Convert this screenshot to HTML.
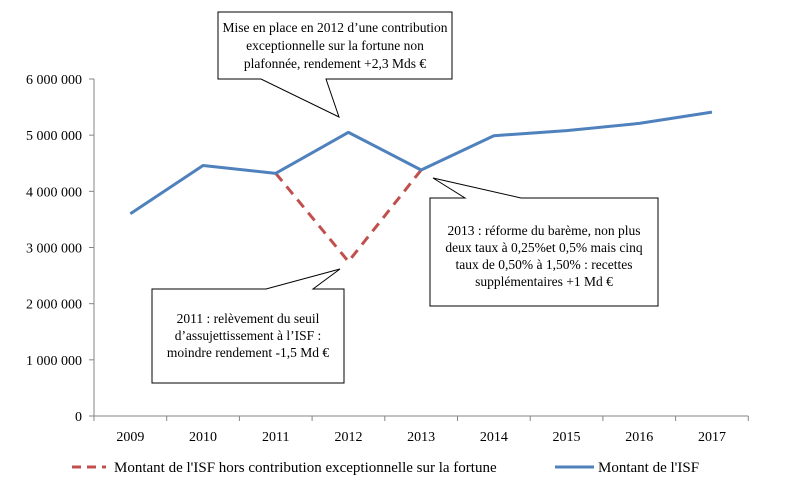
<!DOCTYPE html>
<html><head><meta charset="utf-8"><style>
body{margin:0;background:#fff}
svg text{font-family:"Liberation Serif",serif;font-size:13px;fill:#000}
svg .lg{font-size:15px}
svg .cl{font-size:13.5px}
svg .ax{font-size:14px}
</style></head><body>
<svg width="785" height="488" viewBox="0 0 785 488">
<g id="axes"></g>
<g id="series"></g>
<g class="cl">
<path d="M218,12 H452 V79 H326 L339,117 L261,79 H218 Z" fill="#fff" stroke="#000" stroke-width="1"/>
<text class="cl" x="335" y="32" text-anchor="middle">Mise en place en 2012 d’une contribution</text>
<text class="cl" x="335" y="50" text-anchor="middle">exceptionnelle sur la fortune  non</text>
<text class="cl" x="335" y="68" text-anchor="middle">plafonnée, rendement  +2,3 Mds €</text>
</g>
<g>
<path d="M152,289 H266 L340,269 L313,289 H344 V383 H152 Z" fill="#fff" stroke="#000" stroke-width="1"/>
<text class="cl" x="248" y="323" text-anchor="middle">2011 : relèvement  du seuil</text>
<text class="cl" x="248" y="340" text-anchor="middle">d’assujettissement à l’ISF :</text>
<text class="cl" x="248" y="357" text-anchor="middle">moindre rendement -1,5 Md €</text>
</g>
<g>
<path d="M430,198 H465 L433,178 L521,198 H658 V306 H430 Z" fill="#fff" stroke="#000" stroke-width="1"/>
<text class="cl" x="544" y="235" text-anchor="middle">2013 : réforme  du barème,  non plus</text>
<text class="cl" x="544" y="252" text-anchor="middle">deux taux à 0,25%et 0,5%  mais cinq</text>
<text class="cl" x="544" y="269" text-anchor="middle">taux de 0,50% à 1,50% : recettes</text>
<text class="cl" x="544" y="286" text-anchor="middle">supplémentaires +1 Md €</text>
</g>
<g>
<line x1="72" y1="467" x2="106" y2="467" stroke="#c0504d" stroke-width="3" stroke-dasharray="9,6"/>
<text class="lg" x="114" y="472">Montant de l'ISF hors contribution exceptionnelle sur la fortune</text>
<line x1="555" y1="467" x2="594" y2="467" stroke="#4f81bd" stroke-width="3"/>
<text class="lg" x="598" y="472">Montant de l'ISF</text>
</g>
</svg>
<script>
const categories=["2009","2010","2011","2012","2013","2014","2015","2016","2017"];
const isfValues=[3600000,4460000,4320000,5050000,4380000,4990000,5080000,5210000,5410000];
const dashedCategories=["2011","2012","2013"];
const dashedValues=[4320000,2750000,4380000];
const yTicks=[0,1000000,2000000,3000000,4000000,5000000,6000000];
const yTickLabels=["0","1 000 000","2 000 000","3 000 000","4 000 000","5 000 000","6 000 000"];
const NS="http://www.w3.org/2000/svg";
const X0=94,BW=72.7,Y0=416,YT=79,YMAX=6000000;
const xs=c=>X0+BW*(categories.indexOf(c)+0.5);
const ys=v=>Y0-(Y0-YT)*v/YMAX;
function mk(t,a,p){const e=document.createElementNS(NS,t);for(const k in a)e.setAttribute(k,a[k]);p.appendChild(e);return e;}
const ax=document.getElementById('axes'),se=document.getElementById('series');
let l=mk('line',{x1:X0,y1:YT,x2:X0,y2:Y0,stroke:'#868686'},ax);


l=mk('line',{x1:X0,y1:Y0,x2:X0+BW*categories.length,y2:Y0,stroke:'#868686'},ax);


yTicks.forEach((v,i)=>{const y=ys(v);
 mk('line',{x1:X0-5,y1:y,x2:X0,y2:y,stroke:'#868686'},ax);
 const t=mk('text',{x:X0-12,y:y+5,'text-anchor':'end','class':'ax'},ax);t.textContent=yTickLabels[i];
 
 
});
for(let i=0;i<=categories.length;i++){const x=X0+BW*i;mk('line',{x1:x,y1:Y0,x2:x,y2:Y0+5,stroke:'#868686'},ax);}
categories.forEach(c=>{const t=mk('text',{x:xs(c),y:441,'text-anchor':'middle','class':'ax'},ax);t.textContent=c;
 
 
});
const pd=mk('polyline',{points:dashedCategories.map((c,i)=>xs(c)+','+ys(dashedValues[i])).join(' '),fill:'none',stroke:'#c0504d','stroke-width':3,'stroke-dasharray':'10,7'},se);


const ps=mk('polyline',{points:categories.map((c,i)=>xs(c)+','+ys(isfValues[i])).join(' '),fill:'none',stroke:'#4f81bd','stroke-width':3,'stroke-linejoin':'round'},se);


</script>
</body></html>
